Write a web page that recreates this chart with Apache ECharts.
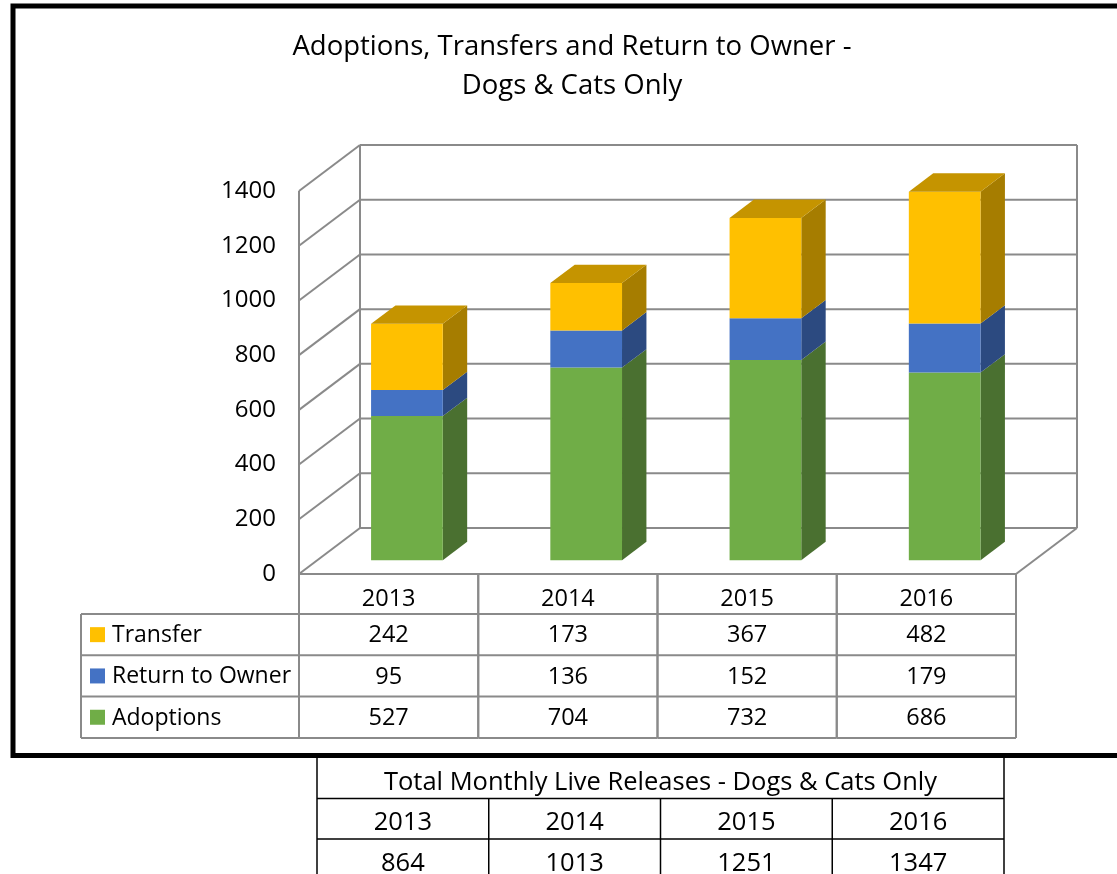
<!DOCTYPE html>
<html>
<head>
<meta charset="utf-8">
<script src="https://cdn.jsdelivr.net/npm/echarts@6/dist/echarts.min.js"></script>
<style>
  html, body { margin: 0; padding: 0; background: #fff; }
  #chart { width: 1117px; height: 874px; }
</style>
</head>
<body>
<div id="chart"></div>
<script>
// data
var years = ['2013', '2014', '2015', '2016'];
var adoptions = [527, 704, 732, 686];
var returnToOwner = [95, 136, 152, 179];
var transfer = [242, 173, 367, 482];
var totals = [864, 1013, 1251, 1347];
var yTicks = [0, 200, 400, 600, 800, 1000, 1200, 1400];

// stacking order, bottom to top; table lists them top to bottom
var layers = [
  { name: 'Adoptions', values: adoptions, face: '#70AD47', side: '#4A7030', top: '#5E9239' },
  { name: 'Return to Owner', values: returnToOwner, face: '#4472C4', side: '#2C4A80', top: '#3A62A8' },
  { name: 'Transfer', values: transfer, face: '#FFC000', side: '#A67D00', top: '#C59400' }
];

var FONT = 'Open Sans';
var DX = 61, DY = -46;          // depth of the 3d box
var D0 = 0.3, DB = 0.4;         // bar starts at 30% depth, 40% deep
var BAR_RATIO = 0.4;
var GRID_LINE = '#8A8A8A';
var HEAD_H = 40, ROW_H = 41.3;
var LEGEND_LEFT = 81;

var chart = echarts.init(document.getElementById('chart'));

function line(x1, y1, x2, y2, color, w) {
  return { type: 'line', shape: { x1: x1, y1: y1, x2: x2, y2: y2 },
           style: { stroke: color, lineWidth: w } };
}
function text(str, x, y, align, size) {
  return { type: 'text', style: { text: str, x: x, y: y, align: align, verticalAlign: 'middle',
           fontSize: size, fontFamily: FONT, fill: '#000' } };
}

// walls and floor
function renderFrame(params, api) {
  var cs = params.coordSys;
  var p = api.coord([0, api.value(1)]);
  var gx = cs.x, gw = cs.width, gy = cs.y, gh = cs.height;
  var kids = [
    line(gx, p[1], gx + DX, p[1] + DY, GRID_LINE, 2),
    line(gx + DX, p[1] + DY, gx + gw + DX, p[1] + DY, GRID_LINE, 2)
  ];
  if (params.dataIndex === 0) {
    kids.push(line(gx, gy, gx, gy + gh, GRID_LINE, 2));
    kids.push(line(gx + DX, gy + DY, gx + DX, gy + gh + DY, GRID_LINE, 2));
    kids.push(line(gx + gw + DX, gy + DY, gx + gw + DX, gy + gh + DY, GRID_LINE, 2));
    kids.push(line(gx, gy + gh, gx + gw, gy + gh, GRID_LINE, 2));
    kids.push(line(gx + gw, gy + gh, gx + gw + DX, gy + gh + DY, GRID_LINE, 2));
  }
  return { type: 'group', children: kids };
}

function makeBarRenderer(layer, isTop) {
  return function (params, api) {
    var i = api.value(0);
    var p0 = api.coord([i, api.value(1)]);
    var p1 = api.coord([i, api.value(2)]);
    var w = api.size([1, 0])[0] * BAR_RATIO;
    var ox = DX * D0, oy = DY * D0, bx = DX * DB, by = DY * DB;
    var xl = p0[0] - w / 2 + ox, xr = p0[0] + w / 2 + ox;
    var yb = p0[1] + oy, yt = p1[1] + oy;
    var kids = [
      { type: 'polygon', shape: { points: [[xr, yt], [xr + bx, yt + by], [xr + bx, yb + by], [xr, yb]] },
        style: { fill: layer.side } },
      { type: 'rect', shape: { x: xl, y: yt, width: w, height: yb - yt }, style: { fill: layer.face } }
    ];
    if (isTop) {
      kids.push({ type: 'polygon', shape: { points: [[xl, yt], [xl + bx, yt + by], [xr + bx, yt + by], [xr, yt]] },
                  style: { fill: layer.top } });
    }
    return { type: 'group', children: kids };
  };
}

// data table under the axis
function renderTable(params, api) {
  var cs = params.coordSys;
  var i = api.value(0);
  var c = api.coord([i, 0]);
  var half = api.size([1, 0])[0] / 2;
  var x0 = c[0] - half, x1 = c[0] + half;
  var top = cs.y + cs.height;
  var bottom = top + HEAD_H + ROW_H * 3;
  var kids = [
    line(x0, top, x0, bottom, GRID_LINE, 2),
    line(x1, top, x1, bottom, GRID_LINE, 2),
    text(years[i], c[0], top + HEAD_H / 2 + 5, 'center', 23.5)
  ];
  for (var r = 0; r < 3; r++) {
    var ly = top + HEAD_H + ROW_H * r;
    kids.push(line(x0, ly, x1, ly, GRID_LINE, 2));
    var layer = layers[2 - r];
    kids.push(text(String(layer.values[i]), c[0], ly + ROW_H / 2 + 1, 'center', 23.5));
  }
  kids.push(line(x0, bottom, x1, bottom, GRID_LINE, 2));
  if (params.dataIndex === 0) {
    kids.push(line(LEGEND_LEFT, top + HEAD_H, LEGEND_LEFT, bottom, GRID_LINE, 2));
    for (var k = 0; k < 3; k++) {
      var yy = top + HEAD_H + ROW_H * k;
      var lay = layers[2 - k];
      kids.push(line(LEGEND_LEFT, yy, x0, yy, GRID_LINE, 2));
      kids.push({ type: 'rect', shape: { x: 90, y: yy + ROW_H / 2 - 7.5, width: 15, height: 15 },
                  style: { fill: lay.face } });
      kids.push(text(lay.name, 112, yy + ROW_H / 2 + 1, 'left', 23));
    }
    kids.push(line(LEGEND_LEFT, bottom, x0, bottom, GRID_LINE, 2));
  }
  return { type: 'group', children: kids };
}

var series = [{
  type: 'custom',
  silent: true,
  renderItem: renderFrame,
  encode: { x: 0, y: 1 },
  data: yTicks.map(function (v) { return [0, v]; })
}];

var base = years.map(function () { return 0; });
layers.forEach(function (layer, li) {
  var data = layer.values.map(function (v, i) {
    var item = [i, base[i], base[i] + v];
    base[i] += v;
    return item;
  });
  series.push({
    type: 'custom',
    name: layer.name,
    silent: true,
    renderItem: makeBarRenderer(layer, li === layers.length - 1),
    encode: { x: 0, y: [1, 2] },
    data: data
  });
});

series.push({
  type: 'custom',
  silent: true,
  renderItem: renderTable,
  encode: { x: 0, y: 1 },
  data: years.map(function (y, i) { return [i, 0]; })
});

// separate totals table below the chart box
var graphics = [{
  type: 'rect', shape: { x: 13, y: 6, width: 1130, height: 749.5 },
  style: { fill: null, stroke: '#000', lineWidth: 5 }, z: 10
}];
var tx0 = 317, tx1 = 1004, tTop = 758, tRow = 40.5;
var tCol = (tx1 - tx0) / years.length;
function gLine(x1, y1, x2, y2) {
  graphics.push({ type: 'line', shape: { x1: x1, y1: y1, x2: x2, y2: y2 }, style: { stroke: '#000', lineWidth: 1.5 } });
}
function gText(str, x, y) {
  graphics.push({ type: 'text', style: { text: str, x: x, y: y, align: 'center', verticalAlign: 'middle',
                  fontSize: 25.5, fontFamily: FONT, fill: '#000' } });
}
gLine(tx0, tTop, tx0, tTop + tRow * 3);
gLine(tx1, tTop, tx1, tTop + tRow * 3);
gLine(tx0, tTop + tRow, tx1, tTop + tRow);
gLine(tx0, tTop + tRow * 2, tx1, tTop + tRow * 2);
gLine(tx0, tTop + tRow * 3, tx1, tTop + tRow * 3);
gText('Total Monthly Live Releases - Dogs & Cats Only', (tx0 + tx1) / 2, tTop + tRow / 2 + 4);
years.forEach(function (y, i) {
  var cx = tx0 + tCol * (i + 0.5);
  if (i > 0) gLine(tx0 + tCol * i, tTop + tRow, tx0 + tCol * i, tTop + tRow * 3);
  gText(y, cx, tTop + tRow * 1.5 + 4);
  gText(String(totals[i]), cx, tTop + tRow * 2.5 + 4);
});

chart.setOption({
  animation: false,
  backgroundColor: '#fff',
  textStyle: { fontFamily: FONT },
  title: {
    text: 'Adoptions, Transfers and Return to Owner -\nDogs & Cats Only',
    left: 572, top: 28, textAlign: 'center', padding: 0,
    textStyle: { fontSize: 27.5, fontWeight: 'normal', color: '#000', lineHeight: 39, fontFamily: FONT }
  },
  grid: { left: 299, top: 191, width: 717, height: 383 },
  xAxis: {
    type: 'category', data: years,
    axisLine: { show: false }, axisTick: { show: false }, axisLabel: { show: false }, splitLine: { show: false }
  },
  yAxis: {
    type: 'value', min: 0, max: 1400, interval: 200,
    axisLine: { show: false }, axisTick: { show: false }, splitLine: { show: false },
    axisLabel: { fontSize: 24, color: '#000', margin: 23, fontFamily: FONT,
                 formatter: function (v) { return String(v); } }
  },
  graphic: graphics,
  series: series
});
</script>
</body>
</html>
